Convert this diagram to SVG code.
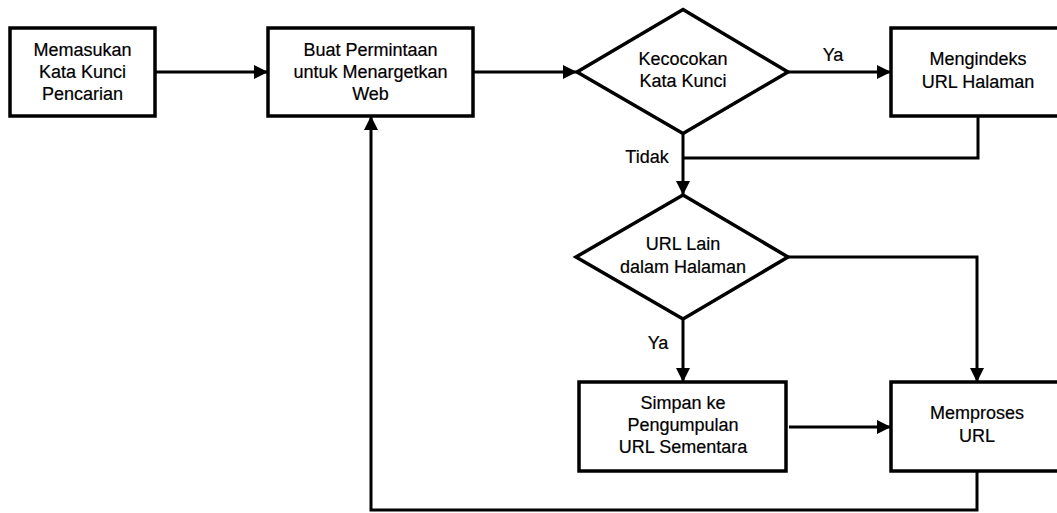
<svg xmlns="http://www.w3.org/2000/svg" width="1057" height="513" viewBox="0 0 1057 513">
<style>
.n{fill:#fff;stroke:#000;stroke-width:3.5}
.c{fill:none;stroke:#000;stroke-width:3}
text{font-family:"Liberation Sans",Arial,sans-serif;font-size:18px;fill:#000;text-anchor:middle;stroke:#000;stroke-width:0.2}
</style>
<defs>
<marker id="ah" markerWidth="14" markerHeight="14" viewBox="0 0 14 14" refX="14" refY="7" orient="auto" markerUnits="userSpaceOnUse">
<path d="M0,0 L14,7 L0,14 Z" fill="#000"/>
</marker>
</defs>
<rect width="1057" height="513" fill="#fff"/>
<g id="connectors">
<path class="c" d="M155,72 H268" marker-end="url(#ah)"/>
<path class="c" d="M473,72 H577" marker-end="url(#ah)"/>
<path class="c" d="M788,72 H891" marker-end="url(#ah)"/>
<path class="c" d="M978,116 V158 H683"/>
<path class="c" d="M683,133 V195" marker-end="url(#ah)"/>
<path class="c" d="M788,257 H977 V382" marker-end="url(#ah)"/>
<path class="c" d="M683,319 V382" marker-end="url(#ah)"/>
<path class="c" d="M789,427 H891" marker-end="url(#ah)"/>
<path class="c" d="M977,471 V510 H371 V116" marker-end="url(#ah)"/>
<text x="833" y="61">Ya</text>
<text x="647" y="163">Tidak</text>
<text x="658" y="349">Ya</text>
</g>
<g id="n1">
<rect class="n" x="10" y="28" width="145" height="88"/>
<text x="82.5" y="55.5">Memasukan</text>
<text x="82.5" y="77.5">Kata Kunci</text>
<text x="82.5" y="99.5">Pencarian</text>
</g>
<g id="n2">
<rect class="n" x="268" y="28" width="205" height="88"/>
<text x="370.5" y="55.5">Buat Permintaan</text>
<text x="370.5" y="77.5">untuk Menargetkan</text>
<text x="370.5" y="99.5">Web</text>
</g>
<g id="n3">
<polygon class="n" points="683,9.5 788,72 683,133.5 577,72"/>
<text x="683" y="65">Kecocokan</text>
<text x="683" y="87">Kata Kunci</text>
</g>
<g id="n4">
<rect class="n" x="891" y="28" width="175" height="88"/>
<text x="978" y="65">Mengindeks</text>
<text x="978" y="88">URL Halaman</text>
</g>
<g id="n5">
<polygon class="n" points="683,195 788,257 683,319 576,257"/>
<text x="683" y="250">URL Lain</text>
<text x="683" y="273">dalam Halaman</text>
</g>
<g id="n6">
<rect class="n" x="579" y="382" width="207" height="89"/>
<text x="683" y="409">Simpan ke</text>
<text x="683" y="431">Pengumpulan</text>
<text x="683" y="453">URL Sementara</text>
</g>
<g id="n7">
<rect class="n" x="891" y="382" width="175" height="89"/>
<text x="977" y="419">Memproses</text>
<text x="977" y="442">URL</text>
</g>
</svg>
